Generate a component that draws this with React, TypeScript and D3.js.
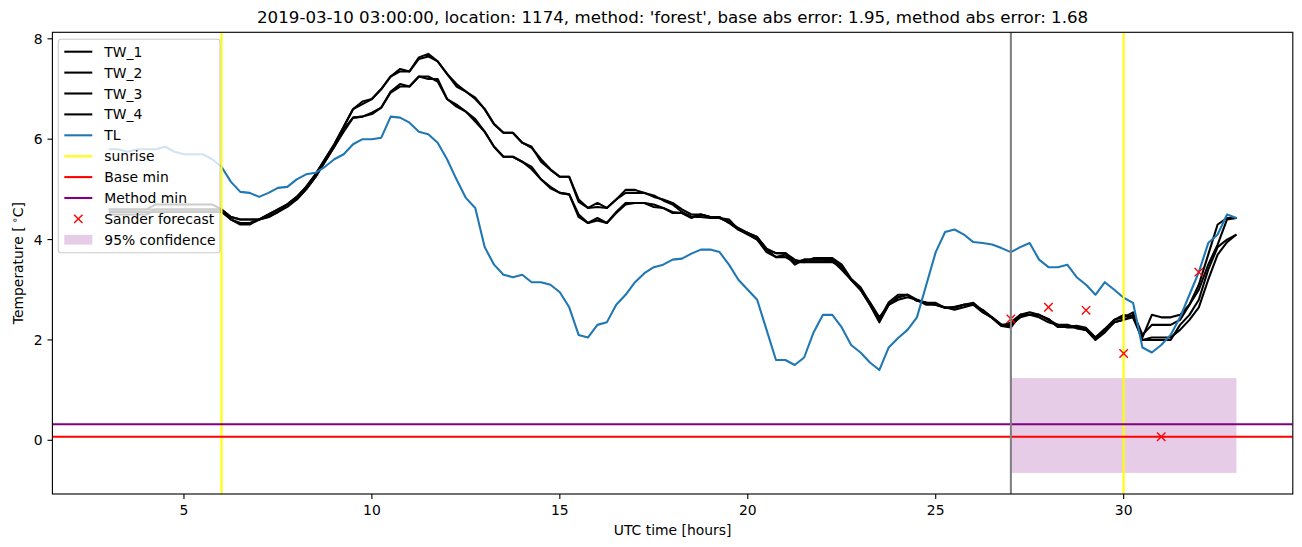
import React from 'react';
import * as d3 from 'd3';

// time axis: readings every quarter hour from 03:00 to 33:00 (UTC hours)
const HOURS: number[] = d3.range(121).map((i) => 3 + i * 0.25);

const TW_1 = [
  4.6, 4.6, 4.6, 4.6, 4.6, 4.6, 4.6, 4.6, 4.6, 4.6, 4.6, 4.6, 4.6, 4.45, 4.4, 4.4, 4.4, 4.5, 4.6, 4.7,
  4.85, 5.05, 5.3, 5.6, 5.9, 6.25, 6.6, 6.7, 6.8, 7.0, 7.25, 7.35, 7.35, 7.63, 7.7, 7.55, 7.3, 7.05, 6.95, 6.8,
  6.6, 6.3, 6.13, 6.13, 5.93, 5.85, 5.55, 5.39, 5.25, 5.25, 4.75, 4.63, 4.65, 4.63, 4.8, 4.99, 4.99, 4.93, 4.88, 4.78,
  4.7, 4.55, 4.45, 4.5, 4.45, 4.43, 4.4, 4.2, 4.13, 4.05, 3.82, 3.73, 3.73, 3.6, 3.55, 3.63, 3.63, 3.63, 3.5, 3.22,
  3.05, 2.74, 2.4, 2.75, 2.9, 2.9, 2.78, 2.74, 2.74, 2.64, 2.64, 2.7, 2.74, 2.58, 2.44, 2.28, 2.35, 2.5, 2.55, 2.5,
  2.42, 2.26, 2.26, 2.28, 2.24, 2.05, 2.22, 2.4, 2.5, 2.45, 2.05, 2.5, 2.45, 2.45, 2.5, 2.7, 3.1, 3.7, 4.3, 4.43,
  4.43,
];
const TW_2 = [
  4.6, 4.6, 4.6, 4.6, 4.6, 4.7, 4.7, 4.7, 4.7, 4.7, 4.7, 4.7, 4.6, 4.45, 4.4, 4.4, 4.4, 4.5, 4.6, 4.7,
  4.85, 5.05, 5.3, 5.6, 5.9, 6.25, 6.6, 6.75, 6.8, 7.0, 7.25, 7.4, 7.35, 7.6, 7.65, 7.55, 7.3, 7.1, 6.95, 6.83,
  6.6, 6.3, 6.13, 6.13, 5.93, 5.83, 5.6, 5.4, 5.25, 5.25, 4.8, 4.63, 4.73, 4.63, 4.8, 4.93, 4.93, 4.93, 4.85, 4.8,
  4.73, 4.6, 4.5, 4.5, 4.45, 4.43, 4.35, 4.23, 4.13, 4.05, 3.8, 3.73, 3.73, 3.55, 3.6, 3.6, 3.6, 3.6, 3.45, 3.2,
  3.0, 2.7, 2.4, 2.7, 2.85, 2.9, 2.8, 2.74, 2.7, 2.64, 2.66, 2.7, 2.7, 2.6, 2.45, 2.3, 2.3, 2.5, 2.5, 2.5,
  2.4, 2.3, 2.3, 2.25, 2.2, 2.05, 2.2, 2.4, 2.45, 2.55, 2.1, 2.3, 2.3, 2.3, 2.4, 2.7, 3.0, 3.5, 3.9, 4.4,
  4.43,
];
const TW_3 = [
  4.55, 4.55, 4.55, 4.55, 4.55, 4.55, 4.55, 4.55, 4.55, 4.55, 4.55, 4.55, 4.55, 4.4, 4.33, 4.33, 4.4, 4.45, 4.55, 4.65,
  4.8, 5.0, 5.25, 5.55, 5.85, 6.2, 6.43, 6.45, 6.5, 6.63, 6.95, 7.1, 7.05, 7.25, 7.2, 7.2, 6.8, 6.69, 6.55, 6.4,
  6.15, 5.85, 5.65, 5.65, 5.55, 5.4, 5.2, 5.02, 4.93, 4.9, 4.45, 4.33, 4.38, 4.33, 4.55, 4.73, 4.73, 4.73, 4.7, 4.63,
  4.55, 4.53, 4.45, 4.45, 4.43, 4.43, 4.35, 4.2, 4.13, 4.0, 3.8, 3.65, 3.65, 3.55, 3.55, 3.55, 3.55, 3.55, 3.45, 3.2,
  3.0, 2.75, 2.45, 2.7, 2.8, 2.85, 2.8, 2.7, 2.7, 2.65, 2.6, 2.65, 2.7, 2.55, 2.45, 2.3, 2.3, 2.45, 2.5, 2.45,
  2.35, 2.3, 2.25, 2.25, 2.2, 2.0, 2.15, 2.35, 2.4, 2.5, 2.0, 2.05, 2.05, 2.05, 2.2, 2.4, 2.65, 3.2, 3.7, 3.95,
  4.1,
];
const TW_4 = [
  4.5, 4.5, 4.5, 4.5, 4.5, 4.6, 4.6, 4.6, 4.6, 4.6, 4.6, 4.6, 4.6, 4.4, 4.3, 4.3, 4.4, 4.45, 4.55, 4.7,
  4.8, 5.0, 5.25, 5.55, 5.85, 6.15, 6.43, 6.45, 6.53, 6.63, 6.93, 7.05, 7.05, 7.25, 7.25, 7.15, 6.8, 6.65, 6.55, 6.35,
  6.15, 5.85, 5.65, 5.65, 5.55, 5.45, 5.2, 5.05, 4.93, 4.9, 4.5, 4.33, 4.43, 4.33, 4.53, 4.7, 4.73, 4.73, 4.65, 4.63,
  4.53, 4.53, 4.43, 4.5, 4.45, 4.45, 4.33, 4.2, 4.1, 4.0, 3.75, 3.65, 3.7, 3.5, 3.6, 3.6, 3.6, 3.58, 3.4, 3.2,
  3.0, 2.7, 2.35, 2.7, 2.85, 2.9, 2.78, 2.74, 2.7, 2.64, 2.64, 2.7, 2.72, 2.56, 2.44, 2.28, 2.25, 2.5, 2.5, 2.5,
  2.4, 2.26, 2.3, 2.23, 2.2, 2.02, 2.2, 2.35, 2.4, 2.45, 2.0, 2.0, 2.0, 2.0, 2.3, 2.5, 2.8, 3.4, 3.85, 4.0,
  4.1,
];
const TL = [
  5.8, 5.8, 5.75, 5.8, 5.8, 5.8, 5.85, 5.75, 5.7, 5.7, 5.7, 5.6, 5.45, 5.15, 4.95, 4.93, 4.85, 4.93, 5.03, 5.05,
  5.2, 5.3, 5.33, 5.45, 5.6, 5.7, 5.9, 6.0, 6.0, 6.03, 6.45, 6.43, 6.33, 6.15, 6.1, 5.93, 5.6, 5.2, 4.83, 4.63,
  3.85, 3.5, 3.3, 3.25, 3.3, 3.15, 3.15, 3.1, 2.95, 2.65, 2.1, 2.05, 2.3, 2.35, 2.7, 2.9, 3.15, 3.33, 3.45, 3.5,
  3.6, 3.62, 3.72, 3.8, 3.8, 3.75, 3.5, 3.2, 3.0, 2.8, 2.2, 1.6, 1.6, 1.5, 1.65, 2.15, 2.5, 2.5, 2.25, 1.9,
  1.75, 1.55, 1.4, 1.85, 2.04, 2.2, 2.45, 3.1, 3.75, 4.15, 4.2, 4.1, 3.95, 3.93, 3.9, 3.83, 3.75, 3.85, 3.93, 3.6,
  3.45, 3.45, 3.5, 3.25, 3.1, 2.9, 3.15, 3.0, 2.84, 2.74, 1.85, 1.75, 1.9, 2.1, 2.45, 2.9, 3.35, 3.93, 4.1, 4.5,
  4.43,
];

const SANDER_HOURS = [27, 28, 29, 30, 31, 32];
const SANDER_VALUES = [2.42, 2.65, 2.59, 1.73, 0.07, 3.35];
const SUNRISE_HOURS = [6, 30];
const FORECAST_START = [27];
const BASE_MIN = [0.07];
const METHOD_MIN = [0.32];
const CONF_HOURS = [27, 33];
const CONF_RANGE = [-0.65, 1.24];

const X_TICKS = [5, 10, 15, 20, 25, 30];
const Y_TICKS = [0, 2, 4, 6, 8];

const TITLE =
  "2019-03-10 03:00:00, location: 1174, method: 'forest', base abs error: 1.95, method abs error: 1.68";

const W = 1302;
const H = 547;
const L = 52.4;
const R = 1292.8;
const T = 32.3;
const B = 494;
const FONT = 'DejaVu Sans, sans-serif';
const FS = 13.9;

const x = d3.scaleLinear().domain([1.5, 34.5]).range([L, R]);
const y = d3.scaleLinear().domain([-1.07, 8.13]).range([B, T]);

const TL_COLOR = '#1f77b4';

export default function App() {
  const line = d3
    .line<number>()
    .x((_, i) => x(HOURS[i]))
    .y((d) => y(d));

  const tw = [TW_1, TW_2, TW_3, TW_4];

  const legendItems = [
    { label: 'TW_1', kind: 'line', color: '#000' },
    { label: 'TW_2', kind: 'line', color: '#000' },
    { label: 'TW_3', kind: 'line', color: '#000' },
    { label: 'TW_4', kind: 'line', color: '#000' },
    { label: 'TL', kind: 'line', color: TL_COLOR },
    { label: 'sunrise', kind: 'line', color: 'yellow' },
    { label: 'Base min', kind: 'line', color: 'red' },
    { label: 'Method min', kind: 'line', color: 'purple' },
    { label: 'Sander forecast', kind: 'x', color: 'red' },
    { label: '95% confidence', kind: 'patch', color: 'purple' },
  ];

  const ms = 4.2;

  return (
    <svg
      width={W}
      height={H}
      viewBox={`0 0 ${W} ${H}`}
      style={{ position: 'absolute', left: 0, top: 0, background: '#fff' }}
      fontFamily={FONT}
    >
      <rect x={0} y={0} width={W} height={H} fill="#fff" />
      <defs>
        <clipPath id="plot">
          <rect x={L} y={T} width={R - L} height={B - T} />
        </clipPath>
      </defs>
      <g clipPath="url(#plot)">
        {/* confidence band */}
        <rect
          x={x(CONF_HOURS[0])}
          y={y(CONF_RANGE[1])}
          width={x(CONF_HOURS[1]) - x(CONF_HOURS[0])}
          height={y(CONF_RANGE[0]) - y(CONF_RANGE[1])}
          fill="purple"
          fillOpacity={0.2}
        />
        {tw.map((s, k) => (
          <path key={k} d={line(s) || ''} fill="none" stroke="#000" strokeWidth={2.08} strokeLinejoin="round" strokeLinecap="butt" />
        ))}
        <path d={line(TL) || ''} fill="none" stroke={TL_COLOR} strokeWidth={2.08} strokeLinejoin="round" />
        {SUNRISE_HOURS.map((h) => (
          <line key={h} x1={x(h)} x2={x(h)} y1={T} y2={B} stroke="yellow" strokeWidth={2.08} />
        ))}
        {BASE_MIN.map((v) => (
          <line key={v} x1={L} x2={R} y1={y(v)} y2={y(v)} stroke="red" strokeWidth={2.08} />
        ))}
        {METHOD_MIN.map((v) => (
          <line key={v} x1={L} x2={R} y1={y(v)} y2={y(v)} stroke="purple" strokeWidth={2.08} />
        ))}
        {SANDER_HOURS.map((h, i) => {
          const cx = x(h);
          const cy = y(SANDER_VALUES[i]);
          return (
            <g key={h} stroke="red" strokeWidth={1.39}>
              <line x1={cx - ms} y1={cy - ms} x2={cx + ms} y2={cy + ms} />
              <line x1={cx - ms} y1={cy + ms} x2={cx + ms} y2={cy - ms} />
            </g>
          );
        })}
        {FORECAST_START.map((h) => (
          <line key={h} x1={x(h)} x2={x(h)} y1={T} y2={B} stroke="gray" strokeWidth={2.08} />
        ))}
      </g>

      {/* spines */}
      <rect x={L} y={T} width={R - L} height={B - T} fill="none" stroke="#000" strokeWidth={1.11} />

      {/* x ticks */}
      {X_TICKS.map((t) => (
        <g key={t}>
          <line x1={x(t)} x2={x(t)} y1={B} y2={B + 4.9} stroke="#000" strokeWidth={1.11} />
          <text x={x(t)} y={515} fontSize={FS} textAnchor="middle" fill="#000">
            {t}
          </text>
        </g>
      ))}
      {/* y ticks */}
      {Y_TICKS.map((t) => (
        <g key={t}>
          <line x1={L - 4.9} x2={L} y1={y(t)} y2={y(t)} stroke="#000" strokeWidth={1.11} />
          <text x={L - 9.8} y={y(t) + 5} fontSize={FS} textAnchor="end" fill="#000">
            {t}
          </text>
        </g>
      ))}

      <text x={(L + R) / 2} y={535} fontSize={FS} textAnchor="middle" fill="#000">
        UTC time [hours]
      </text>
      <text
        transform={`translate(23, ${(T + B) / 2}) rotate(-90)`}
        fontSize={FS}
        textAnchor="middle"
        fill="#000"
      >
        Temperature [
        <tspan dx={3} dy={-5} fontSize={FS * 0.7}>∘</tspan>
        <tspan dy={5}>C]</tspan>
      </text>

      <text x={(L + R) / 2} y={23} fontSize={16.67} textAnchor="middle" fill="#000">
        {TITLE}
      </text>

      {/* legend */}
      <g>
        <rect x={58.3} y={39.3} width={161.7} height={213.4} rx={2.8} fill="#fff" fillOpacity={0.8} stroke="#cccccc" strokeWidth={1.11} />
        {legendItems.map((it, i) => {
          const cy = 51.7 + i * 20.9;
          return (
            <g key={it.label}>
              {it.kind === 'line' && (
                <line x1={64.3} x2={92.3} y1={cy} y2={cy} stroke={it.color} strokeWidth={2.08} />
              )}
              {it.kind === 'x' && (
                <g stroke="red" strokeWidth={1.39}>
                  <line x1={78.3 - ms} y1={cy - ms} x2={78.3 + ms} y2={cy + ms} />
                  <line x1={78.3 - ms} y1={cy + ms} x2={78.3 + ms} y2={cy - ms} />
                </g>
              )}
              {it.kind === 'patch' && (
                <rect x={64.3} y={cy - 4.9} width={28} height={9.7} fill="purple" fillOpacity={0.2} />
              )}
              <text x={104.3} y={cy + 5} fontSize={FS} fill="#000">
                {it.label}
              </text>
            </g>
          );
        })}
      </g>
    </svg>
  );
}
